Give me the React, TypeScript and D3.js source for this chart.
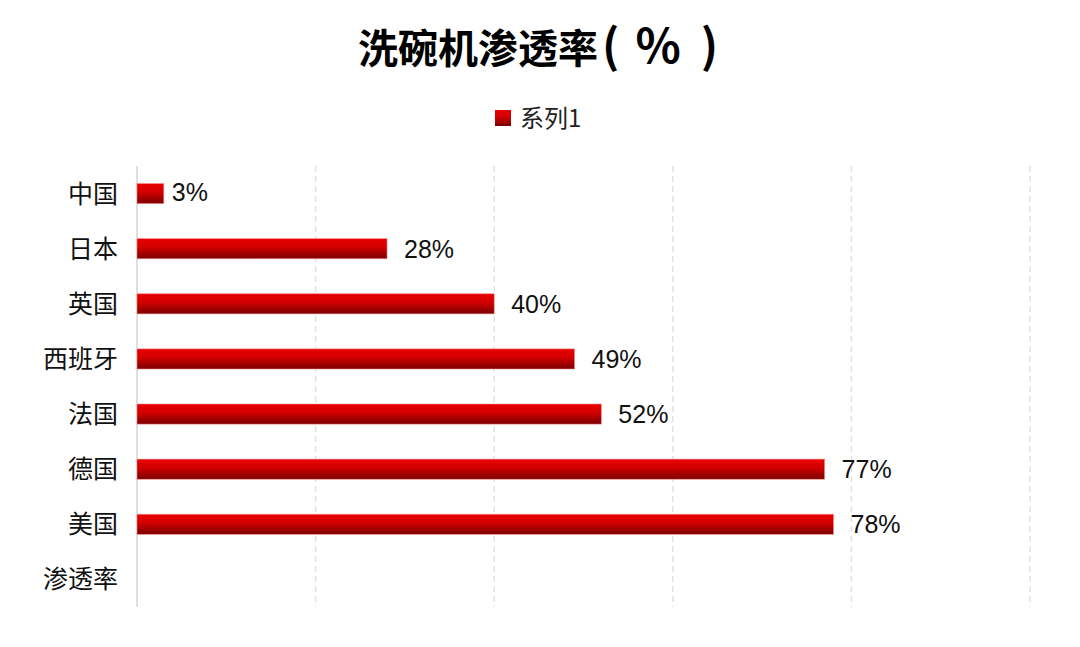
import * as d3 from 'd3';

// 洗碗机渗透率 (%) — top to bottom as shown in the chart
const CATEGORIES = ['中国', '日本', '英国', '西班牙', '法国', '德国', '美国', '渗透率'];
const VALUES: (number | null)[] = [3, 28, 40, 49, 52, 77, 78, null];
const X_TICKS = [0, 20, 40, 60, 80, 100];
const TITLE_MAIN = '洗碗机渗透率';
const TITLE_UNIT = '%';
const SERIES_NAME = '系列1';

const W = 1080;
const H = 647;
const M = { top: 166, right: 50, bottom: 40, left: 137 };
const CJK = '"Noto Sans CJK SC", "Noto Sans", sans-serif';
const LATIN = '"Liberation Sans", Arial, sans-serif';

export default function App() {
  const x = d3.scaleLinear().domain([0, 100]).range([M.left, 1030]);
  const y = d3.scaleBand<string>().domain(CATEGORIES).range([M.top, H - M.bottom]).padding(0);
  const barH = y.bandwidth() * 0.365;

  return (
    <svg width={W} height={H} style={{ position: 'absolute', left: 0, top: 0, background: '#fff' }}>
      <defs>
        <linearGradient id="barFill" x1="0" y1="0" x2="0" y2="1">
          <stop offset="0%" stopColor="#e80000" />
          <stop offset="40%" stopColor="#d50000" />
          <stop offset="100%" stopColor="#7a0000" />
        </linearGradient>
      </defs>

      {/* Title: tall brackets with wide spacing round the % sign */}
      <text x={358} y={63} fontFamily={CJK} fontWeight={700} fontSize={40} fill="#000">
        <tspan>{TITLE_MAIN}</tspan>
        <tspan dx={4} fontSize={46}>(</tspan>
        <tspan dx={16} fontSize={47}>{TITLE_UNIT}</tspan>
        <tspan dx={20} fontSize={46}>)</tspan>
      </text>

      {/* Legend */}
      <g transform="translate(495,110)">
        <rect width={16} height={16} fill="url(#barFill)" />
        <text x={25} y={8.5} dy="0.36em" fontFamily={CJK} fontSize={24} fill="#222">
          {SERIES_NAME}
        </text>
      </g>

      {/* Vertical gridlines */}
      {X_TICKS.slice(1).map((t) => (
        <line key={t} x1={x(t)} x2={x(t)} y1={M.top} y2={H - M.bottom}
          stroke="#e0e0e0" strokeWidth={1.4} strokeDasharray="6,4" />
      ))}

      {/* Category axis */}
      <line x1={x(0)} x2={x(0)} y1={M.top} y2={H - M.bottom} stroke="#d9d9d9" strokeWidth={1.6} />
      {CATEGORIES.map((c) => (
        <text key={c} x={118} y={(y(c) ?? 0) + y.bandwidth() / 2} dy="0.36em" textAnchor="end"
          fontFamily={CJK} fontSize={25} fill="#111">
          {c}
        </text>
      ))}

      {/* Bars + value labels */}
      {CATEGORIES.map((c, i) => {
        const v = VALUES[i];
        if (v == null) return null;
        const cy = (y(c) ?? 0) + y.bandwidth() / 2;
        return (
          <g key={c}>
            <rect x={x(0)} y={cy - barH / 2} width={x(v) - x(0)} height={barH}
              fill="url(#barFill)" stroke="rgba(255,140,140,0.7)" strokeWidth={0.8} />
            <text x={x(v) + (v < 10 ? 8 : 17)} y={v < 10 ? cy - 2 : cy} dy="0.36em" fontFamily={LATIN} fontSize={25} fill="#111">
              {`${v}%`}
            </text>
          </g>
        );
      })}
    </svg>
  );
}
